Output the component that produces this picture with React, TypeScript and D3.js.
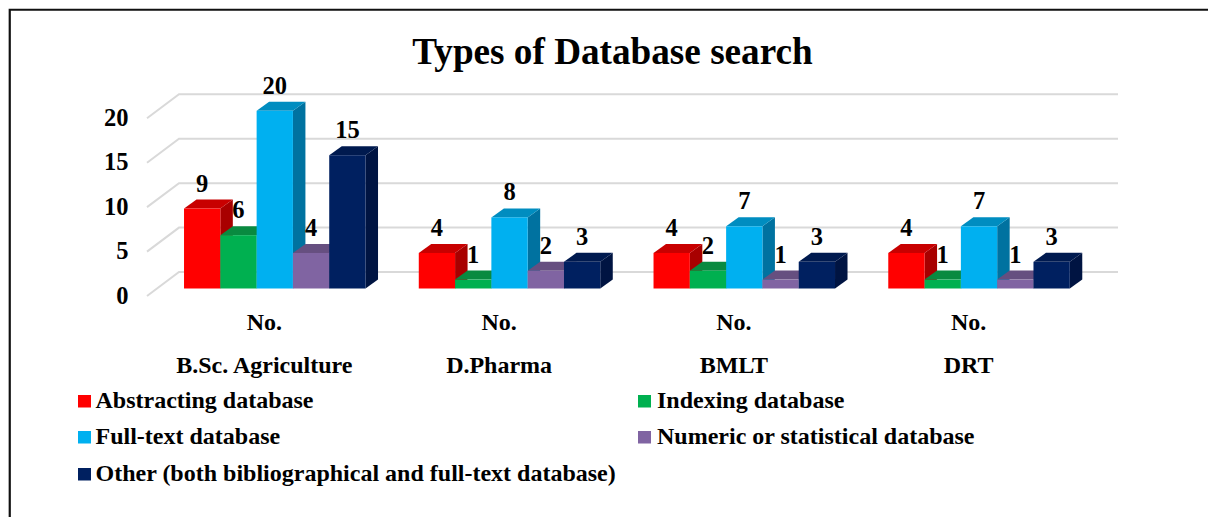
import React from "react";
import * as d3 from "d3";

const categories = ["B.Sc. Agriculture", "D.Pharma", "BMLT", "DRT"];
const seriesNames = [
  "Abstracting database",
  "Indexing database",
  "Full-text database",
  "Numeric or statistical database",
  "Other (both bibliographical and full-text database)",
];
const abstracting = [9, 4, 4, 4];
const indexing = [6, 1, 2, 1];
const fullText = [20, 8, 7, 7];
const numeric = [4, 2, 1, 1];
const other = [15, 3, 3, 3];
const seriesValues = [abstracting, indexing, fullText, numeric, other];
const yTicks = [0, 5, 10, 15, 20];
const front = ["#ff0000", "#00b050", "#00b0f0", "#8064a2", "#002060"];
const top = ["#c80000", "#098a40", "#008dc0", "#664f80", "#001a4f"];
const side = ["#a80000", "#07753a", "#0072a0", "#54426c", "#001442"];

const FONT = "'Liberation Serif', serif";
const fmt = d3.format("d");

export default function App() {
  const x = d3.scaleBand<string>().domain(categories).range([147, 1086]);
  const y = d3.scaleLinear().domain([0, 20]).range([296, 118.3]);
  const barW = 36.3;
  const off = { x: 10.4, y: -7.5 };
  const depth = { x: 12.5, y: -9 };
  const wall = { x: 32, y: -24 };
  const groupLeft = (c: string) =>
    (x(c) as number) + x.bandwidth() / 2 + off.x - (barW * seriesNames.length) / 2;

  const bars: React.ReactNode[] = [];
  categories.forEach((c, ci) => {
    seriesNames.forEach((_, s) => {
      const v = seriesValues[s][ci];
      const x0 = groupLeft(c) + s * barW;
      const x1 = x0 + barW;
      const yb = y(0) + off.y;
      const yt = y(v) + off.y;
      bars.push(
        <g key={`${ci}-${s}`}>
          <polygon
            fill={side[s]}
            points={`${x1},${yt} ${x1 + depth.x},${yt + depth.y} ${x1 + depth.x},${yb + depth.y} ${x1},${yb}`}
          />
          <polygon
            fill={top[s]}
            points={`${x0},${yt} ${x1},${yt} ${x1 + depth.x},${yt + depth.y} ${x0 + depth.x},${yt + depth.y}`}
          />
          <rect x={x0} y={yt} width={barW} height={yb - yt} fill={front[s]} />
        </g>
      );
    });
  });

  const legendPos = [
    [78, 408],
    [638, 408],
    [78, 444],
    [638, 444],
    [78, 481],
  ];

  return (
    <svg
      width={1208}
      height={517}
      style={{ position: "absolute", left: 0, top: 0, background: "#fff" }}
      fontFamily={FONT}
      fontWeight="bold"
      fill="#000"
    >
      <path d="M9.75,517 V9.75 H1208" fill="none" stroke="#111" strokeWidth={2.2} />
      <text x={612.5} y={64} fontSize={37.2} textAnchor="middle">Types of Database search</text>

      {yTicks.map((t) => (
        <g key={t}>
          <polyline
            fill="none"
            stroke="#d9d9d9"
            strokeWidth={2}
            points={`147,${y(t)} ${147 + wall.x},${y(t) + wall.y} 1118,${y(t) + wall.y}`}
          />
          <text x={128.5} y={y(t) + 7.5} fontSize={24.5} textAnchor="end">{fmt(t)}</text>
        </g>
      ))}

      {bars}

      {categories.map((c, ci) =>
        seriesNames.map((_, s) => (
          <text
            key={`${ci}-${s}`}
            x={groupLeft(c) + (s + 0.5) * barW}
            y={y(seriesValues[s][ci]) + off.y - 17}
            fontSize={24.5}
            textAnchor="middle"
          >
            {seriesValues[s][ci]}
          </text>
        ))
      )}

      {categories.map((c) => {
        const cx = (x(c) as number) + x.bandwidth() / 2;
        return (
          <g key={c} fontSize={24} textAnchor="middle">
            <text x={cx} y={330}>No.</text>
            <text x={cx} y={373}>{c}</text>
          </g>
        );
      })}

      {seriesNames.map((n, s) => (
        <g key={n}>
          <rect x={legendPos[s][0]} y={legendPos[s][1] - 13} width={13} height={12.5} fill={front[s]} />
          <text x={legendPos[s][0] + (s % 2 ? 19 : 17.5)} y={legendPos[s][1]} fontSize={24}>{n}</text>
        </g>
      ))}
    </svg>
  );
}
